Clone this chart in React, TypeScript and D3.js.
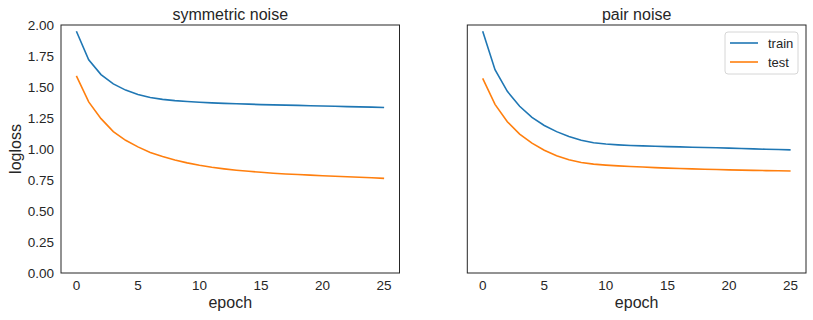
import React from 'react'
import { scaleLinear, line } from 'd3'

const epochs = Array.from({ length: 26 }, (_, i) => i)

const symTrain = [1.95, 1.72, 1.6, 1.525, 1.475, 1.44, 1.415, 1.4, 1.39, 1.383, 1.377, 1.372, 1.368, 1.365, 1.362, 1.358, 1.356, 1.354, 1.352, 1.349, 1.347, 1.345, 1.342, 1.34, 1.338, 1.335]
const symTest = [1.59, 1.38, 1.245, 1.14, 1.07, 1.017, 0.972, 0.94, 0.912, 0.888, 0.869, 0.853, 0.84, 0.829, 0.82, 0.812, 0.805, 0.799, 0.794, 0.789, 0.784, 0.78, 0.776, 0.772, 0.768, 0.763]
const pairTrain = [1.95, 1.64, 1.465, 1.345, 1.255, 1.19, 1.14, 1.1, 1.07, 1.05, 1.04, 1.033, 1.028, 1.025, 1.022, 1.019, 1.017, 1.014, 1.012, 1.01, 1.007, 1.004, 1.001, 0.998, 0.996, 0.993]
const pairTest = [1.57, 1.36, 1.22, 1.12, 1.047, 0.99, 0.945, 0.913, 0.891, 0.878, 0.87, 0.864, 0.859, 0.855, 0.85, 0.846, 0.843, 0.84, 0.837, 0.835, 0.832, 0.83, 0.828, 0.826, 0.824, 0.822]

const xTicks = [0, 5, 10, 15, 20, 25]
const yTicks = [0, 0.25, 0.5, 0.75, 1.0, 1.25, 1.5, 1.75, 2.0]
const seriesNames = ['train', 'test']
const colors = ['#1f77b4', '#ff7f0e']

const width = 813
const height = 320
const top = 25
const bottom = 273
const font = '"Liberation Sans", Arial, sans-serif'
const ink = '#262626'

function Panel({ left, right, title, train, test, showY, showLegend }) {
    const x = scaleLinear().domain([-1.25, 26.25]).range([left, right])
    const y = scaleLinear().domain([0, 2]).range([bottom, top])
    const path = line().x((d, i) => x(epochs[i])).y(d => y(d))
    const cx = (left + right) / 2

    return (
        <g fontFamily={font} fill={ink}>
            <rect x={left} y={top} width={right - left} height={bottom - top} fill="white" stroke={ink} strokeWidth={1} />
            {[train, test].map((s, i) => (
                <path key={i} d={path(s)} fill="none" stroke={colors[i]} strokeWidth={1.6} />
            ))}
            {xTicks.map(t => (
                <text key={t} x={x(t)} y={290} textAnchor="middle" fontSize={13.5}>{t}</text>
            ))}
            {showY && yTicks.map(t => (
                <text key={t} x={left - 7} y={y(t) + 5} textAnchor="end" fontSize={13.5}>{t.toFixed(2)}</text>
            ))}
            {showY && (
                <text transform={`translate(21, ${(top + bottom) / 2}) rotate(-90)`} textAnchor="middle" fontSize={16}>logloss</text>
            )}
            <text x={cx} y={308} textAnchor="middle" fontSize={16}>epoch</text>
            <text x={cx} y={20} textAnchor="middle" fontSize={16}>{title}</text>
            {showLegend && (
                <g>
                    <rect x={725} y={32} width={73} height={42} rx={3} fill="white" fillOpacity={0.8} stroke="#d6d6d6" />
                    {seriesNames.map((n, i) => (
                        <g key={n}>
                            <line x1={730} x2={758} y1={43 + i * 19} y2={43 + i * 19} stroke={colors[i]} strokeWidth={1.6} />
                            <text x={768} y={47.5 + i * 19} fontSize={13}>{n}</text>
                        </g>
                    ))}
                </g>
            )}
        </g>
    )
}

export default function App() {
    return (
        <svg width={width} height={height} style={{ position: 'absolute', left: 0, top: 0, background: 'white' }}>
            <Panel left={61} right={399.5} title="symmetric noise" train={symTrain} test={symTest} showY showLegend={false} />
            <Panel left={467.3} right={806} title="pair noise" train={pairTrain} test={pairTest} showY={false} showLegend />
        </svg>
    )
}
